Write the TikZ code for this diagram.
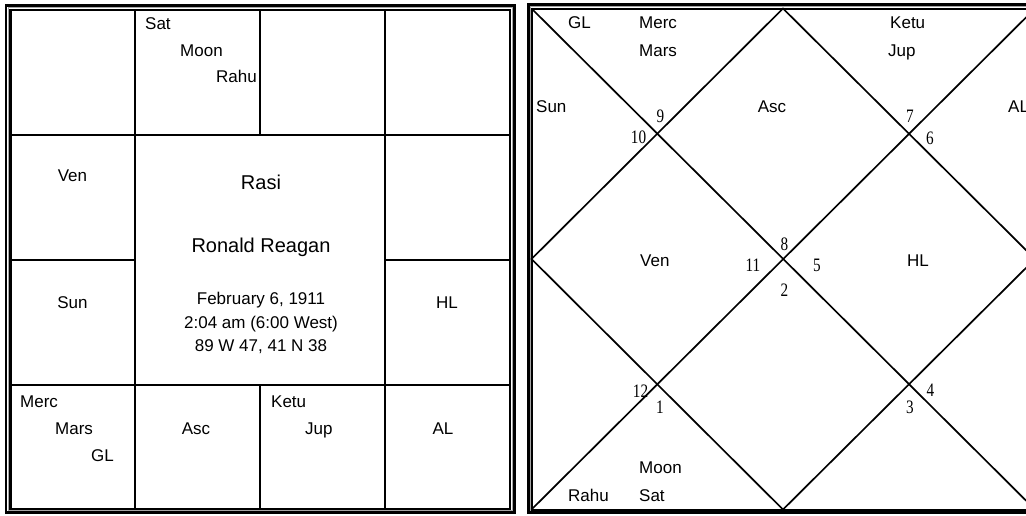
\documentclass[tikz,border=0pt]{standalone}
\usepackage{fontspec}
\setmainfont{Liberation Sans}
\newfontfamily\numfont[FakeStretch=0.8]{Liberation Serif}
\usepackage{xcolor}
\usepackage{tikz}
\usetikzlibrary{positioning}
\definecolor{bevelgray}{RGB}{165,165,165}
\definecolor{inkblack} {RGB}{0,0,0}

\begin{document}
\begin{tikzpicture}[
  x=1pt, y=-1pt,
  pl/.style  ={inner sep=0pt, font=\fontsize{17}{17}\selectfont,
               text height=12.2pt, text depth=0pt},
  plw/.style ={pl, anchor=west},
  title/.style={inner sep=0pt, font=\fontsize{20}{20}\selectfont,
               text height=14.3pt, text depth=0pt},
  num/.style ={inner sep=0pt, font=\numfont\fontsize{19}{19}\selectfont,
               text height=12.8pt, text depth=0pt},
  rim/.style ={draw=inkblack, line width=2.6pt},
  bevel/.style={draw=bevelgray, line width=1pt},
  cell/.style={draw=inkblack, line width=2.4pt},
  diag/.style={draw=inkblack, line width=1.7pt},
]
\useasboundingbox (0,0) rectangle (1026,515);
\clip (0,0) rectangle (1026,515);

%-- LEFT: Rasi chart (south style grid)
\draw[rim]   (6,5.5) rectangle (514.5,512.5);
\draw[bevel] (8.3,7.8) rectangle (512.2,510.2);
\draw[cell]  (10.5,10) rectangle (510,509);
\draw[cell]  (135,10) -- (135,509);
\draw[cell]  (385,10) -- (385,509);
\draw[cell]  (260,10) -- (260,135);
\draw[cell]  (260,385) -- (260,509);
\draw[cell]  (10.5,135) -- (510,135);
\draw[cell]  (10.5,385) -- (510,385);
\draw[cell]  (10.5,260) -- (135,260);
\draw[cell]  (385,260) -- (510,260);

\node[plw] (LSat)  at (145,23) {Sat};
\node[plw] (LMoon) at (180,50) {Moon};
\node[plw] (LRahu) at (216,76) {Rahu};
\node[pl]  (LVen)  at (72.5,175) {Ven};
\node[pl]  (LSun)  at (72.5,302) {Sun};
\node[pl]  (LHL)   at (447,302) {HL};
\node[plw] (LMerc) at (20,401) {Merc};
\node[plw] (LMars) at (55,428) {Mars};
\node[plw] (LGL)   at (91,455) {GL};
\node[pl]  (LAsc)  at (196,428) {Asc};
\node[plw] (LKetu) at (271,401) {Ketu};
\node[plw] (LJup)  at (305,428) {Jup};
\node[pl]  (LAL)   at (443,428) {AL};

\node[title] (rasi)  at (261,182) {Rasi};
\node[title] (name)  at (261,245) {Ronald Reagan};
\node[pl]    (date)  at (261,298) {February 6, 1911};
\node[pl]    (time)  at (261,322) {2:04 am (6:00 West)};
\node[pl]    (place) at (261,345) {89 W 47, 41 N 38};

%-- RIGHT: diamond chart (north style)
\draw[rim]   (528.5,4.5) rectangle (1040,512.5);
\draw[bevel] (530.2,6.5) rectangle (1038,510.8);

\coordinate (tl) at (531.5,8.5);
\coordinate (tr) at (1035,8.5);
\coordinate (bl) at (531.5,509.5);
\coordinate (br) at (1035,509.5);
\coordinate (mt) at (783,8.5);
\coordinate (mb) at (783,509.5);
\coordinate (ml) at (531.5,259);
\coordinate (mr) at (1035,259);

\draw[cell, line width=2pt] (tl) rectangle (br);
\draw[diag] (tl) -- (br);
\draw[diag] (tr) -- (bl);
\draw[diag] (mt) -- (ml) -- (mb) -- (mr) -- cycle;

\node[plw] (RGL)   at (568,22)  {GL};
\node[plw] (RMerc) at (639,22)  {Merc};
\node[plw] (RMars) at (639,50)  {Mars};
\node[plw] (RSun)  at (536,106) {Sun};
\node[pl]  (RAsc)  at (772,106) {Asc};
\node[plw] (RKetu) at (890,22)  {Ketu};
\node[plw] (RJup)  at (888,50)  {Jup};
\node[plw] (RAL)   at (1008,106) {AL};
\node[plw] (RVen)  at (640,260) {Ven};
\node[plw] (RHL)   at (907,260) {HL};
\node[plw] (RMoon) at (639,467) {Moon};
\node[plw] (RRahu) at (568,495) {Rahu};
\node[plw] (RSat)  at (639,495) {Sat};

\node[num] (n9)  at (660.5,116) {9};
\node[num] (n10) at (638.5,137) {10};
\node[num] (n7)  at (910,116)   {7};
\node[num] (n6)  at (930,138)   {6};
\node[num] (n8)  at (784.5,244) {8};
\node[num] (n11) at (753,265)   {11};
\node[num] (n5)  at (817,265)   {5};
\node[num] (n2)  at (784.5,290.5) {2};
\node[num] (n12) at (640.5,391) {12};
\node[num] (n1)  at (660,407)   {1};
\node[num] (n3)  at (910,407)   {3};
\node[num] (n4)  at (930.5,390) {4};

\end{tikzpicture}
\end{document}
